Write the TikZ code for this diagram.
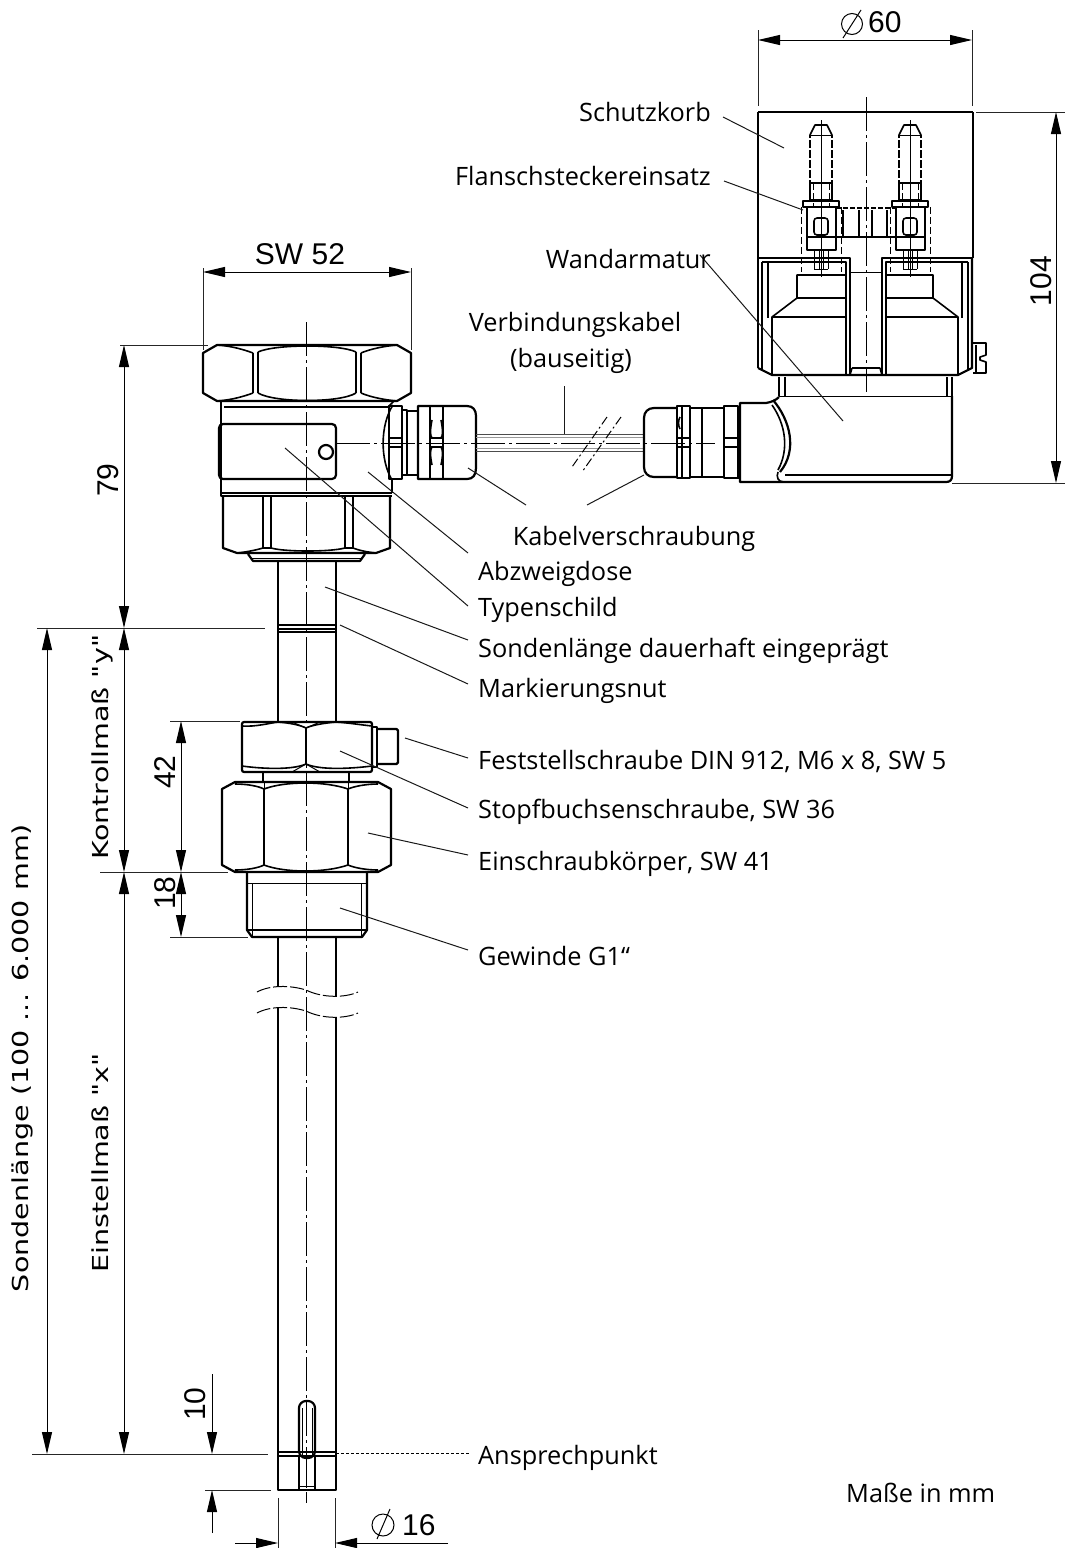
\documentclass[tikz,border=0pt]{standalone}
\usepackage{fontspec}
\setmainfont{Open Sans}
\newfontfamily\dimfont{Liberation Sans}
\newfontfamily\vertfont{DejaVu Sans}
\usetikzlibrary{arrows.meta}
\tikzset{
 x=1pt,y=-1pt,
 ol/.style={line width=2.2pt,line join=round,black},
 md/.style={line width=1.6pt,line join=round,black},
 tn/.style={line width=1pt,line join=round,black},
 ext/.style={line width=1pt,black!85},
 leader/.style={line width=1pt,black!90},
 ctr/.style={line width=1pt,black,dash pattern=on 34pt off 4pt on 3pt off 4pt},
 whid/.style={line width=1.8pt,white,dash pattern=on 2pt off 8pt},
 dimA/.style={line width=1pt,black,{Triangle[length=22pt,width=10pt]}-{Triangle[length=22pt,width=10pt]}},
 dimE/.style={line width=1pt,black,-{Triangle[length=22pt,width=10pt]}},
 lab/.style={anchor=west,inner sep=0pt,yshift=-2.5pt,font=\fontsize{25.3}{28}\selectfont},
 labR/.style={anchor=east,inner sep=0pt,yshift=-2.5pt,font=\fontsize{25.3}{28}\selectfont},
 labC/.style={anchor=center,inner sep=0pt,yshift=-2.5pt,font=\fontsize{25.3}{28}\selectfont},
 dimt/.style={inner sep=0pt,font=\dimfont\fontsize{30}{32}\selectfont},
 dimv/.style={inner sep=0pt,rotate=90,font=\dimfont\fontsize{30}{32}\selectfont},
 vert/.style={inner sep=0pt,rotate=90,font=\vertfont\fontsize{22}{26}\selectfont},
}
\begin{document}
\begin{tikzpicture}
\useasboundingbox (0,0) rectangle (1065,1548);
\fill[white] (0,0) rectangle (1065,1548);

% ---------- centre lines
\draw[ctr] (306,322) -- (306,1503);
\draw[ctr] (336,443) -- (715,443);
\draw[ctr] (866,97) -- (866,392);

% ---------- top hex nut
\draw[ol] (217,345) -- (397,345) -- (411,353) -- (411,393) -- (397,401) -- (217,401) -- (203,393) -- (203,353) -- cycle;
\draw[md] (253,353) -- (253,393) (258,352) -- (258,393) (356,352) -- (356,393) (361,353) -- (361,393);
\draw[md] (217,345) .. controls (232,346) and (245,350) .. (253,353);
\draw[md] (258,352) .. controls (275,344) and (340,344) .. (356,352);
\draw[md] (361,353) .. controls (370,349) and (385,346) .. (397,345);
\draw[md] (217,401) .. controls (232,400) and (245,396) .. (253,393);
\draw[md] (258,393) .. controls (275,403) and (340,403) .. (356,393);
\draw[md] (361,393) .. controls (370,397) and (385,400) .. (397,401);

% ---------- junction box
\draw[ol] (221,401) -- (221,493) -- (392,493);
\draw[ol] (392,480) -- (392,493);
\draw[md] (224,407) -- (388,407);
\draw[md] (394,401) -- (388,407);
\draw[ol,rounded corners=4pt] (219,424) -- (336,424) -- (336,479) -- (219,479) -- cycle;
\draw[ol] (326,452) circle (7pt);
\draw[ol] (221,493) -- (221,496) -- (392,496);
% lower hex
\draw[ol] (223,496) -- (223,548) -- (237,553) -- (376,553) -- (390,548) -- (390,496);
\draw[md] (263,496) -- (263,548) (271,496) -- (271,549) (345,496) -- (345,549) (353,496) -- (353,548);
\draw[md] (237,553) .. controls (247,552) and (256,550) .. (263,548) -- (271,548) .. controls (285,552) and (330,552) .. (345,548) -- (353,548) .. controls (358,550) and (366,552) .. (376,553);
\draw[ol] (248,554) -- (253,561) -- (360,561) -- (365,554);
\draw[tn] (251,558) -- (362,558);

% ---------- left cable gland
\draw[md] (393,405) .. controls (380,425) and (380,460) .. (392,480);
\draw[ol] (389,406) rectangle (402,479);
\draw[ol] (402,410) rectangle (407,475);
\draw[md] (407,411) rectangle (418,475);
\draw[ol] (418,406) -- (467,406) .. controls (473,406) and (476,410) .. (476,416) -- (476,468) .. controls (476,475) and (473,479) .. (467,479) -- (418,479) -- cycle;
\draw[ol] (430,406) -- (430,479) (443,406) -- (443,479);
\draw[md] (432,420) .. controls (430,430) and (430,436) .. (432,438) (441,420) .. controls (443,430) and (443,436) .. (441,438);
\draw[md] (432,465) .. controls (430,455) and (430,450) .. (432,447) (441,465) .. controls (443,455) and (443,450) .. (441,447);
\draw[ol] (389,438) -- (402,438) (389,447) -- (402,447) (430,438) -- (443,438) (430,447) -- (443,447);

% ---------- cable
\draw[tn,black!70] (476,434) -- (644,434) (476,451) -- (644,451);
\draw[tn,black!40] (476,437) -- (644,437) (476,448) -- (644,448);
\draw[tn,dash pattern=on 9pt off 3pt on 2pt off 3pt] (607,417) -- (572,467);
\draw[tn,dash pattern=on 9pt off 3pt on 2pt off 3pt] (621,417) -- (582,472);

% ---------- tube
\draw[ol] (278,561) -- (278,722) (336,561) -- (336,722);
\draw[md] (278,625) -- (336,625);
\draw[md] (278,629) -- (336,629);
\draw[md] (278,632) -- (336,632);
% upper nut
\draw[ol,rounded corners=2pt] (242,722) rectangle (372,772);
\draw[md] (242,726) .. controls (256,727) and (270,723) .. (278,722) (278,722) .. controls (290,723) and (300,725) .. (306,728) .. controls (312,725) and (325,723) .. (336,722) .. controls (350,723) and (362,725) .. (372,726);
\draw[md] (242,766) .. controls (256,768) and (290,771) .. (306,764) .. controls (322,771) and (356,768) .. (372,766);
\draw[ol] (306,728) -- (306,764);
\draw[tn] (292,722) -- (306,728) -- (320,722);
\draw[tn] (292,772) -- (306,764) -- (320,772);
% set screw
\draw[md] (372,727) -- (377,727) -- (377,767) -- (372,767);
\draw[ol,rounded corners=1.5pt] (377,729) -- (398,729) -- (398,764) -- (377,764);
\draw[md] (263,772) -- (263,782) (349,772) -- (349,782);
% big nut
\draw[ol] (235,782) -- (378,782) -- (391,789) -- (391,865) -- (378,872) -- (235,872) -- (222,865) -- (222,789) -- cycle;
\draw[ol] (264,789) -- (264,865) (348,789) -- (348,865);
\draw[md] (235,784) .. controls (247,784) and (258,786) .. (264,789) .. controls (285,781) and (325,781) .. (348,789) .. controls (355,786) and (367,784) .. (378,784);
\draw[md] (235,870) .. controls (247,870) and (258,868) .. (264,865) .. controls (285,873) and (325,873) .. (348,865) .. controls (355,868) and (367,870) .. (378,870);
\draw[tn] (264,789) -- (264,782) (348,789) -- (348,782);
% thread
\draw[ol] (247,872) -- (247,930) -- (252,937) -- (362,937) -- (367,930) -- (367,872);
\draw[md] (247,930) -- (367,930);
\draw[tn] (247,883) -- (367,883) (252,883) -- (252,937) (361,883) -- (361,937);
% tube lower
\draw[ol] (278,937) -- (278,987) (336,937) -- (336,997);
\draw[ol] (278,1008) -- (278,1490) -- (336,1490) -- (336,1018);
\draw[tn,dash pattern=on 14pt off 3pt] (257,992) .. controls (270,985) and (290,985) .. (306,990) .. controls (322,998) and (345,998) .. (358,992);
\draw[tn,dash pattern=on 14pt off 3pt] (257,1013) .. controls (270,1006) and (290,1006) .. (306,1011) .. controls (322,1019) and (345,1019) .. (358,1013);
% tip
\draw[ol,rounded corners=7pt] (299,1458) -- (299,1401) -- (315,1401) -- (315,1458) -- cycle;
\draw[tn] (302,1408) -- (302,1455) (312,1408) -- (312,1455);
\draw[md] (278,1452) -- (336,1452) (278,1456) -- (336,1456);
\draw[md] (299,1456) -- (299,1490) (315,1456) -- (315,1490);
\draw[tn] (299,1486) -- (315,1486);
\draw[tn] (306,1458) -- (306,1486);

% ---------- wall fitting: basket
\draw[ol] (758,258) -- (758,112);
\draw[ol,line width=2.8pt] (758,112) -- (973,112);
\draw[ol] (973,112) -- (973,258);
% lower block
\draw[ol,line width=2.8pt] (758,258) -- (758,368);
\draw[ol] (758,368) -- (772,375) -- (958,375) -- (972,368) -- (972,258);
\draw[ol] (758,258) -- (850,258) -- (850,375);
\draw[ol] (882,375) -- (882,258) -- (972,258);
\draw[md] (762,262) -- (762,370) (968,262) -- (968,370);
\draw[md] (762,262) -- (846,262) -- (846,375);
\draw[md] (886,375) -- (886,262) -- (968,262);
\draw[md] (768,262) -- (768,318) (962,262) -- (962,318);
\draw[tn] (850,272) -- (882,272);
\draw[md] (852,368) -- (880,368) (850,375) -- (852,368) (882,375) -- (880,368);
% insert shapes
\draw[md] (846,275) -- (797,275) -- (797,298) -- (772,317) -- (772,375);
\draw[md] (797,298) -- (846,298);
\draw[md] (772,317) -- (846,317);
\draw[md] (886,275) -- (933,275) -- (933,298) -- (958,317) -- (958,375);
\draw[md] (933,298) -- (886,298);
\draw[md] (958,317) -- (886,317);
% screw right
\draw[md] (973,343) -- (986,343) -- (986,355) -- (980,357) -- (980,360) -- (986,362) -- (986,373) -- (973,373);
\draw[md] (976,345) -- (976,373);
% neck
\draw[md] (779,377) -- (779,396) (952,377) -- (952,396) (785,377) -- (785,396) (947,377) -- (947,396);
\draw[tn] (779,396) -- (952,396);
% body
\draw[ol] (952,396) -- (952,476) .. controls (952,480) and (950,482) .. (946,482) -- (740,482) -- (740,403) -- (766,403) .. controls (772,402) and (776,400) .. (779,397);
\draw[ol] (785,475) -- (952,475);
\draw[ol] (773,400) .. controls (790,420) and (798,450) .. (780,472);
\draw[md] (772,405) .. controls (786,425) and (789,450) .. (778,470);
\draw[md] (778,472) .. controls (776,477) and (778,482) .. (784,482);
% right gland
\draw[ol] (738,408) -- (738,479);
\draw[md] (724,406) rectangle (738,478);
\draw[ol] (724,408) -- (702,408) (724,477) -- (702,477);
\draw[md] (702,408) -- (702,477);
\draw[ol] (690,406) -- (677,406) -- (677,478) -- (690,478) -- cycle;
\draw[md] (682,406) -- (682,478);
\draw[ol] (677,408) -- (654,408) .. controls (648,408) and (644,412) .. (644,418) -- (644,467) .. controls (644,473) and (648,477) .. (654,477) -- (677,477);
\draw[md] (690,408) -- (702,408) (690,477) -- (702,477);
\draw[md] (680,417) .. controls (678,421) and (678,425) .. (680,429);
\draw[md] (677,438) -- (690,438) (677,447) -- (690,447) (724,438) -- (738,438) (724,447) -- (738,447);

% pins (both)
\foreach \c in {821,910}{
 \begin{scope}[xshift=\c pt]
 \draw[md] (-11,183) -- (-11,135) -- (-6,125) -- (6,125) -- (11,135) -- (11,183);
 \draw[tn] (-11,135) -- (11,135);
 \draw[md] (-11,183) rectangle (11,200);
 \draw[md] (-18,201) rectangle (18,207);
 \draw[md] (-14,207) rectangle (15,237);
 \draw[md,rounded corners=3pt] (-7,218) rectangle (7,235);
 \draw[md] (-14,237) rectangle (15,250);
 \draw[tn] (-7,250) -- (-7,269) (7,250) -- (7,269) (-2,250) -- (-2,269) (2,250) -- (2,269) (-7,269) -- (7,269);
 \draw[tn] (0,120) -- (0,277);
 \draw[whid] (-11,138) -- (-11,183) (11,138) -- (11,183);
 \draw[tn,dash pattern=on 7pt off 3pt] (-20,207) -- (-20,272) (20,207) -- (20,272);
 \draw[tn,dash pattern=on 7pt off 3pt] (-8,183) -- (-8,207) (8,183) -- (8,207);
 \end{scope}
}
\draw[md] (836,237) -- (896,237);
\draw[md,dash pattern=on 5pt off 2pt] (836,208) -- (895,208);
\draw[md] (843,210) -- (843,237) (859,210) -- (859,237) (872,210) -- (872,237) (887,210) -- (887,237);

% ---------- leaders
\coordinate (l1a) at (723,117);  \coordinate (l1b) at (784,148);
\coordinate (l2a) at (724,181);  \coordinate (l2b) at (803,210);
\coordinate (l3a) at (700,255);  \coordinate (l3b) at (843,421);
\coordinate (l4a) at (564,386);  \coordinate (l4b) at (564,434);
\coordinate (l5a) at (468,468);  \coordinate (l5b) at (526,505);
\coordinate (l6a) at (644,475);  \coordinate (l6b) at (587,505);
\coordinate (l7a) at (368,472);  \coordinate (l7b) at (468,553);
\coordinate (l8a) at (285,448);  \coordinate (l8b) at (468,606);
\coordinate (l9a) at (325,587);  \coordinate (l9b) at (468,640);
\coordinate (l10a) at (340,625); \coordinate (l10b) at (468,684);
\coordinate (l11a) at (405,738); \coordinate (l11b) at (468,758);
\coordinate (l12a) at (340,751); \coordinate (l12b) at (468,808);
\coordinate (l13a) at (368,833); \coordinate (l13b) at (468,855);
\coordinate (l14a) at (340,908); \coordinate (l14b) at (468,950);
\foreach \k in {1,...,14}{\draw[leader] (l\k a) -- (l\k b);}
\coordinate (l15a) at (336,1453); \coordinate (l15b) at (470,1453);
\draw[line width=1pt,dash pattern=on 3pt off 2pt] (l15a) -- (l15b);

% ---------- labels
\node[labR] (schutz) at (711,110) {Schutzkorb};
\node[labR] (flansch) at (711,174) {Flanschsteckereinsatz};
\node[labR] (wand) at (711,257) {Wandarmatur};
\node[labC] (verb) at (575,322) {Verbindungskabel};
\node[labC] (baus) at (571,358) {(bauseitig)};
\node[labC] (kabel) at (634,536) {Kabelverschraubung};
\node[lab] (abz) at (478,571) {Abzweigdose};
\node[lab] (typ) at (478,607) {Typenschild};
\node[lab] (son) at (478,648) {Sondenlänge dauerhaft eingeprägt};
\node[lab] (mark) at (478,688) {Markierungsnut};
\node[lab] (fest) at (478,759) {Feststellschraube DIN 912, M6 x 8, SW 5};
\node[lab] (stopf) at (478,809) {Stopfbuchsenschraube, SW 36};
\node[lab] (ein) at (478,861) {Einschraubkörper, SW 41};
\node[lab] (gew) at (478,953) {Gewinde G1“};
\node[lab] (ans) at (478,1455) {Ansprechpunkt};
\node[lab] (mas) at (846,1490) {Maße in mm};

% ---------- dimensions
\coordinate (sw1a) at (203,268); \coordinate (sw1b) at (203,350);
\coordinate (sw2a) at (411,268); \coordinate (sw2b) at (411,350);
\draw[ext] (sw1a) -- (sw1b) (sw2a) -- (sw2b);
\coordinate (sw1) at (203,272); \coordinate (sw2) at (411,272);
\draw[dimA] (sw1) -- (sw2);
\node[dimt] (tsw) at (300,254) {SW 52};

\coordinate (p60a) at (758,30); \coordinate (p60b) at (758,106);
\coordinate (p60c) at (972,30); \coordinate (p60d) at (972,106);
\draw[ext] (p60a) -- (p60b) (p60c) -- (p60d);
\coordinate (p60l) at (758,40); \coordinate (p60r) at (972,40);
\draw[dimA] (p60l) -- (p60r);
\node[dimt,anchor=west] (t60) at (868,22) {60};
\coordinate (o60) at (852,24);
\draw[line width=1pt] (o60) circle (10.5pt) (843,38) -- (861,10);

\coordinate (e104a) at (976,112); \coordinate (e104b) at (1065,112);
\coordinate (e104c) at (952,483); \coordinate (e104d) at (1065,483);
\draw[ext] (e104a) -- (e104b) (e104c) -- (e104d);
\coordinate (d104a) at (1056,112); \coordinate (d104b) at (1056,483);
\draw[dimA] (d104a) -- (d104b);
\node[dimv] (t104) at (1041,281) {104};

\coordinate (e79a) at (120,345); \coordinate (e79b) at (208,345);
\coordinate (e628a) at (37,628); \coordinate (e628b) at (265,628);
\coordinate (e872a) at (100,872); \coordinate (e872b) at (228,872);
\coordinate (e721a) at (170,721); \coordinate (e721b) at (240,721);
\coordinate (e937a) at (170,937); \coordinate (e937b) at (248,937);
\coordinate (e1454a) at (32,1454); \coordinate (e1454b) at (268,1454);
\coordinate (e1490a) at (205,1490); \coordinate (e1490b) at (271,1490);
\draw[ext] (e79a) -- (e79b) (e628a) -- (e628b) (e872a) -- (e872b) (e721a) -- (e721b) (e937a) -- (e937b) (e1454a) -- (e1454b) (e1490a) -- (e1490b);

\coordinate (d1) at (124,345); \coordinate (d2) at (124,628); \coordinate (d3) at (124,872); \coordinate (d4) at (124,1454);
\draw[dimA] (d1) -- (d2);
\draw[dimA] (d2) -- (d3);
\draw[dimA] (d3) -- (d4);
\coordinate (s1) at (47,628); \coordinate (s2) at (47,1454);
\draw[dimA] (s1) -- (s2);
\coordinate (k1) at (181,721); \coordinate (k2) at (181,872); \coordinate (k3) at (181,937);
\draw[dimA] (k1) -- (k2);
\draw[dimA] (k2) -- (k3);
\node[dimv] (t79) at (108,480) {79};
\node[dimv] (t42) at (165,772) {42};
\node[dimv] (t18) at (165,893) {18};
\node[dimv] (t10) at (195,1404) {10};
\node[vert] (tson) at (22,1058) {\scalebox{1.3}[1]{Sondenlänge (100 ... 6.000 mm)}};
\node[vert] (tein) at (100,1163) {\scalebox{1.3}[1]{Einstellmaß "x"}};
\node[vert] (tkon) at (102,747) {\scalebox{1.3}[1]{Kontrollmaß "y"}};

\coordinate (t1a) at (212,1374); \coordinate (t1b) at (212,1454);
\coordinate (t2a) at (212,1533); \coordinate (t2b) at (212,1490);
\draw[dimE] (t1a) -- (t1b);
\draw[dimE] (t2a) -- (t2b);

\coordinate (e16a) at (278,1498); \coordinate (e16b) at (278,1548);
\coordinate (e16c) at (335,1498); \coordinate (e16d) at (335,1548);
\draw[ext] (e16a) -- (e16b) (e16c) -- (e16d);
\coordinate (a16a) at (235,1543); \coordinate (a16b) at (278,1543);
\coordinate (a16c) at (448,1543); \coordinate (a16d) at (335,1543);
\draw[dimE] (a16a) -- (a16b);
\draw[dimE] (a16c) -- (a16d);
\node[dimt,anchor=west] (t16) at (402,1525) {16};
\coordinate (o16) at (383,1525);
\draw[line width=1pt] (o16) circle (11pt) (377,1539) -- (390,1509);
\end{tikzpicture}
\end{document}
